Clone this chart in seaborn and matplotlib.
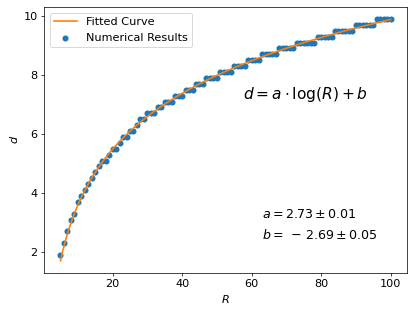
import numpy as np
import pandas as pd
import seaborn as sns
import matplotlib.pyplot as plt

# =========================
# DATA
# =========================
R = list(range(5, 101))
d = [1.9, 2.3, 2.7, 3.1, 3.3, 3.7, 3.9, 4.1, 4.3, 4.5,   # R 5-14
     4.7, 4.9, 5.1, 5.1, 5.3, 5.5, 5.5, 5.7, 5.9, 5.9,   # R 15-24
     6.1, 6.1, 6.3, 6.5, 6.5, 6.7, 6.7, 6.7, 6.9, 6.9,   # R 25-34
     7.1, 7.1, 7.1, 7.3, 7.3, 7.3, 7.5, 7.5, 7.5, 7.7,   # R 35-44
     7.7, 7.7, 7.9, 7.9, 7.9, 7.9, 8.1, 8.1, 8.1, 8.1,   # R 45-54
     8.3, 8.3, 8.3, 8.3, 8.5, 8.5, 8.5, 8.5, 8.7, 8.7,   # R 55-64
     8.7, 8.7, 8.7, 8.9, 8.9, 8.9, 8.9, 8.9, 9.1, 9.1,   # R 65-74
     9.1, 9.1, 9.1, 9.1, 9.3, 9.3, 9.3, 9.3, 9.3, 9.5,   # R 75-84
     9.5, 9.5, 9.5, 9.5, 9.5, 9.7, 9.7, 9.7, 9.7, 9.7,   # R 85-94
     9.7, 9.9, 9.9, 9.9, 9.9, 9.9]                       # R 95-100

# fit parameters shown on the chart
a_fit, a_err = 2.73, 0.01
b_fit, b_err = -2.69, 0.05

df = pd.DataFrame({'R': R, 'd': d})
R_line = np.linspace(min(R), max(R), 300)
fit_df = pd.DataFrame({'R': R_line, 'd': a_fit * np.log(R_line) + b_fit})

# =========================
# PLOT
# =========================
plt.rcParams['font.size'] = 12.5

fig, ax = plt.subplots(figsize=(415 / 65, 314 / 65), dpi=65)
sns.lineplot(data=fit_df, x='R', y='d', color='#ff7f0e', label='Fitted Curve',
             ax=ax, zorder=3, lw=1.8)
sns.scatterplot(data=df, x='R', y='d', color='#1f77b4', label='Numerical Results',
                s=45, linewidth=0, ax=ax, zorder=2)

ax.set_xlabel('$R$')
ax.set_ylabel('$d$')
ax.legend(loc='upper left')

ax.text(0.719, 0.669, r'$d = a \cdot \log(R) + b$', transform=ax.transAxes,
        ha='center', va='center', fontsize=17)
ax.text(0.60, 0.218, rf'$a = {a_fit:.2f} \pm {a_err:.2f}$', transform=ax.transAxes,
        ha='left', va='center', fontsize=14)
ax.text(0.60, 0.143, rf'$b =\,-\,{abs(b_fit):.2f} \pm {b_err:.2f}$', transform=ax.transAxes,
        ha='left', va='center', fontsize=14)

plt.subplots_adjust(left=0.106, right=0.981, top=0.978, bottom=0.131)
plt.savefig('out.png', dpi=65)
